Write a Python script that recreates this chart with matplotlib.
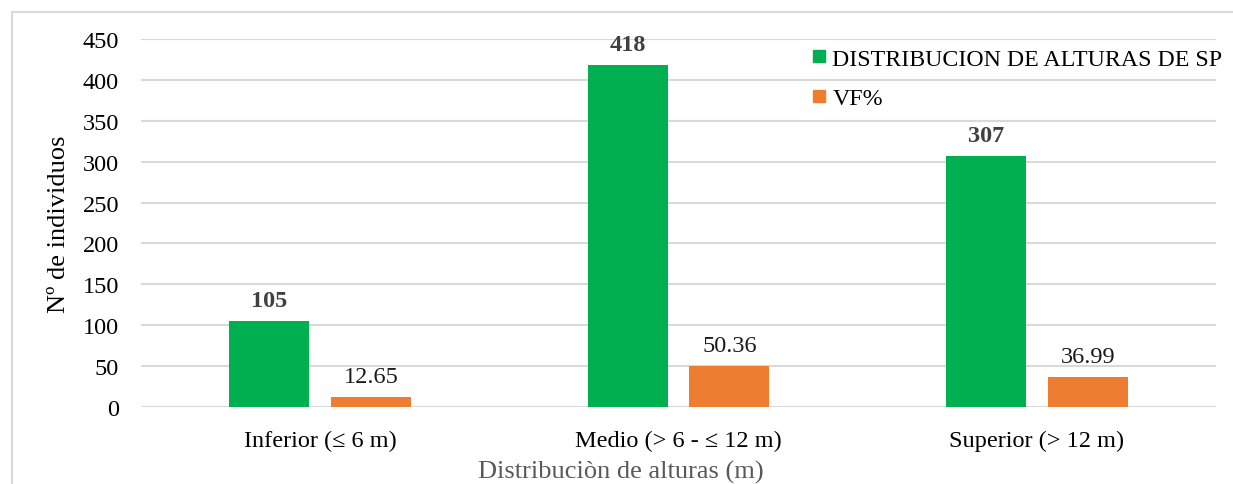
import matplotlib
matplotlib.use("Agg")
import matplotlib.pyplot as plt
from matplotlib.lines import Line2D
import numpy as np

categories = ["Inferior (≤ 6 m)", "Medio (> 6 - ≤ 12 m)", "Superior (> 12 m)"]
alturas_sp = [105, 418, 307]
vf_pct = [12.65, 50.36, 36.99]
series_names = ["DISTRIBUCION DE ALTURAS DE SP", "VF%"]
y_ticks = [0, 50, 100, 150, 200, 250, 300, 350, 400, 450]

plt.rcParams["font.family"] = ["Liberation Serif", "DejaVu Serif"]

W, H = 1233, 485
fig = plt.figure(figsize=(W / 100, H / 100), dpi=100)
ax = fig.add_axes([141 / W, 1 - 408 / H, (1216 - 141) / W, (408 - 40) / H])

x = np.arange(len(categories))
bw = 0.223
off = 0.142
green = "#00B050"
orange = "#ED7D31"

b1 = ax.bar(x - off, alturas_sp, bw, color=green, zorder=3)
b2 = ax.bar(x + off, vf_pct, bw, color=orange, zorder=3)

for rect, v in zip(b1, alturas_sp):
    ax.text(rect.get_x() + rect.get_width() / 2, v + 12, f"{v:d}",
            ha="center", va="bottom", fontsize=17.5, fontweight="bold", color="#404040")
for rect, v in zip(b2, vf_pct):
    ax.text(rect.get_x() + rect.get_width() / 2, v + 12, f"{v:.2f}",
            ha="center", va="bottom", fontsize=17.5, color="#1a1a1a")

ax.set_xlim(-0.5, 2.5)
ax.set_ylim(0, 450)
ax.set_yticks(y_ticks)
ax.set_xticks(x)
ax.set_xticklabels(categories)
ax.tick_params(axis="both", length=0, labelsize=17.5, colors="#000000")
ax.tick_params(axis="x", pad=16.5)
ax.tick_params(axis="y", pad=15.8)
ax.grid(axis="y", color="#d9d9d9", linewidth=1.5, zorder=0)
for s in ax.spines.values():
    s.set_visible(False)

ax.set_ylabel("Nº de individuos", fontsize=19, labelpad=9)
fig.text(621 / W, 1 - 472 / H, "Distribuciòn de alturas (m)", ha="center", va="center",
         fontsize=19, color="#595959")

handles = [Line2D([], [], marker="s", linestyle="none", markersize=9, color=green),
           Line2D([], [], marker="s", linestyle="none", markersize=9, color=orange)]
leg = ax.legend(handles, series_names, loc="upper left", bbox_to_anchor=(812 / W, 1 - 49 / H),
                bbox_transform=fig.transFigure, frameon=False, fontsize=17.2,
                handletextpad=0.25, handlelength=0.6, labelspacing=0.75, borderpad=0,
                borderaxespad=0)

# outer frame (top and left edges)
fig.add_artist(Line2D([12 / W, 12 / W], [0, 1 - 13 / H], transform=fig.transFigure,
                      color="#d9d9d9", linewidth=1.5))
fig.add_artist(Line2D([12 / W, 1], [1 - 13 / H, 1 - 13 / H], transform=fig.transFigure,
                      color="#d9d9d9", linewidth=1.5))

fig.savefig("out.png", dpi=100)
